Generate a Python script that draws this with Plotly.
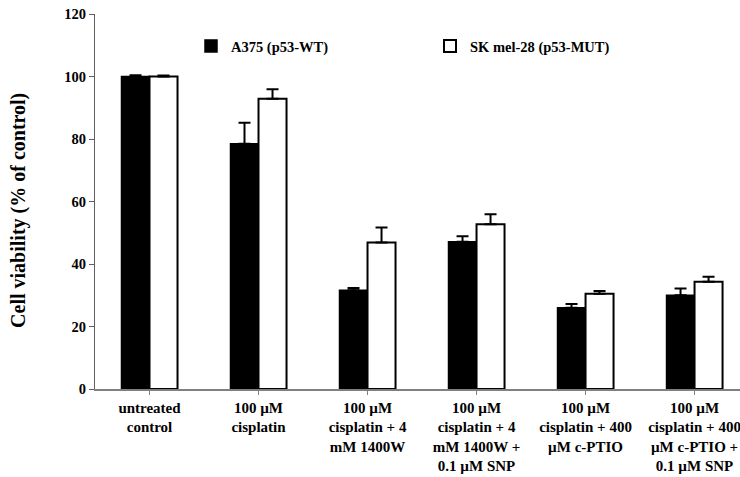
import plotly.graph_objects as go

categories = [
    "untreated<br>control",
    "100 µM<br>cisplatin",
    "100 µM<br>cisplatin + 4<br>mM 1400W",
    "100 µM<br>cisplatin + 4<br>mM 1400W +<br>0.1 µM SNP",
    "100 µM<br>cisplatin + 400<br>µM c-PTIO",
    "100 µM<br>cisplatin + 400<br>µM c-PTIO +<br>0.1 µM SNP",
]
a375_values = [100.0, 78.5, 31.6, 47.1, 26.0, 30.0]
a375_err = [0.4, 6.7, 0.7, 1.8, 1.2, 2.2]
skmel_values = [100.0, 92.9, 46.9, 52.7, 30.5, 34.3]
skmel_err = [0.3, 3.0, 4.8, 3.2, 0.9, 1.6]
y_ticks = [0, 20, 40, 60, 80, 100, 120]
y_title = "Cell viability (% of control)"

FONT = "Liberation Serif"

fig = go.Figure()
fig.add_trace(go.Bar(
    x=categories, y=a375_values, name="A375 (p53-WT)",
    marker=dict(color="black", line=dict(color="black", width=1.5)),
    error_y=dict(type="data", array=a375_err, arrayminus=[0] * len(a375_err),
                 symmetric=False, color="black", thickness=2, width=6),
))
fig.add_trace(go.Bar(
    x=categories, y=skmel_values, name="SK mel-28 (p53-MUT)",
    marker=dict(color="white", line=dict(color="black", width=2)),
    error_y=dict(type="data", array=skmel_err, arrayminus=[0] * len(skmel_err),
                 symmetric=False, color="black", thickness=2, width=6),
))

fig.update_layout(
    width=740, height=477,
    margin=dict(l=95, r=0, t=14, b=88, autoexpand=False),
    paper_bgcolor="white", plot_bgcolor="white",
    barmode="group", bargap=0.486, bargroupgap=0,
    font=dict(family=FONT, size=14, color="black"),
    showlegend=True,
    legend=dict(
        orientation="h", x=(191 - 95) / 645, xanchor="left",
        y=(389 - 30) / 375, yanchor="top",
        entrywidth=194, entrywidthmode="pixels",
        font=dict(family=FONT, size=14.5, color="black", weight="bold"),
        bgcolor="rgba(0,0,0,0)", itemwidth=30,
    ),
    annotations=[dict(
        text=y_title, textangle=-90, showarrow=False,
        xref="paper", x=(19 - 95) / 645, xanchor="center",
        yref="y", y=57, yanchor="middle",
        font=dict(family=FONT, size=20, color="black", weight="bold"),
    )],
)
fig.update_xaxes(
    range=[-0.5, 5.417], showline=True, linecolor="#808080", linewidth=1.5,
    ticks="outside", ticklen=4, tickcolor="#808080", tickwidth=1,
    tickfont=dict(family=FONT, size=15, color="black", weight="bold"),
    showgrid=False, automargin=False, fixedrange=True,
)
fig.update_yaxes(
    range=[0, 120], tickvals=y_ticks, showline=True, linecolor="#606060", linewidth=1,
    ticks="outside", ticklen=5, tickcolor="#606060",
    tickfont=dict(family=FONT, size=14.5, color="black", weight="bold"),
    showgrid=False, zeroline=False, automargin=False,
)

fig.write_html("out.html")
